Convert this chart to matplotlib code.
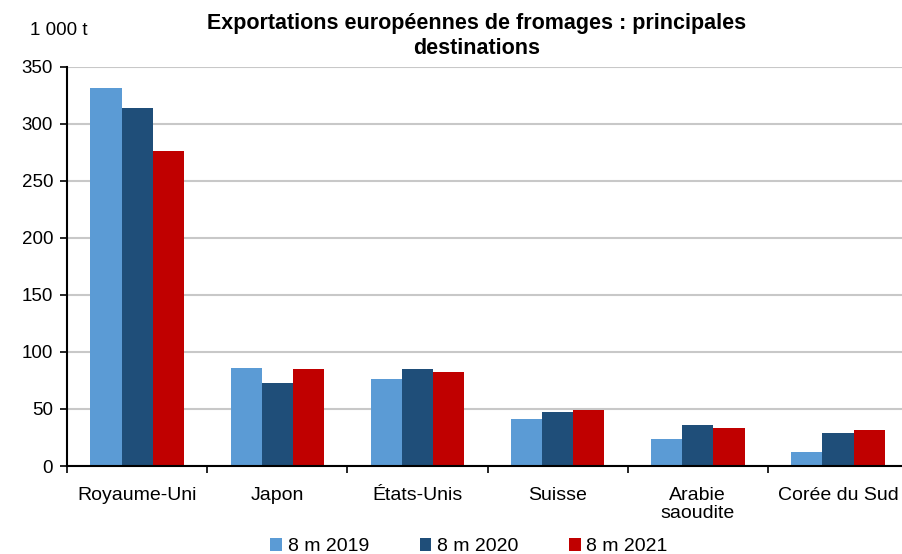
import matplotlib.pyplot as plt
import numpy as np

plt.rcParams['font.family'] = ['Liberation Sans', 'DejaVu Sans']

# Données
pays = ['Royaume-Uni', 'Japon', 'États-Unis', 'Suisse', 'Arabie\nsaoudite', 'Corée du Sud']
v2019 = [331, 86, 76, 41, 24, 12]
v2020 = [314, 73, 85, 47, 36, 29]
v2021 = [276, 85, 82, 49, 33, 32]
series = ['8 m 2019', '8 m 2020', '8 m 2021']
couleurs = ['#5B9BD5', '#1F4E79', '#C00000']


fig = plt.figure(figsize=(9.02, 5.54), dpi=100)
ax = fig.add_axes([0.0743, 0.1588, 0.9324, 0.7208])

x = np.arange(len(pays))
w = 1 / 4.5
for k, (vals, nom, c) in enumerate(zip([v2019, v2020, v2021], series, couleurs)):
    ax.bar(x + (k - 1) * w, vals, width=w, color=c, label=nom, zorder=3)

ax.set_xlim(-0.5, len(pays) - 0.5)
ax.set_ylim(0, 350)
ax.set_yticks(range(0, 351, 50))
ax.yaxis.grid(True, color='#c8c8c8', linewidth=1.5, zorder=0)

ax.set_xticks(x)
ax.set_xticklabels(pays, fontsize=14, linespacing=1.1)
ax.set_xticks(np.arange(len(pays) + 1) - 0.5, minor=True)
ax.tick_params(axis='x', which='major', length=0, pad=15)
ax.tick_params(axis='x', which='minor', length=5, width=1.2, direction='out')
ax.tick_params(axis='y', labelsize=13.5, length=5, width=1.2, pad=5)

for s in ['top', 'right']:
    ax.spines[s].set_visible(False)
for s in ['left', 'bottom']:
    ax.spines[s].set_linewidth(1.5)
    ax.spines[s].set_zorder(4)

fig.text(0.528, 0.935, 'Exportations européennes de fromages : principales\ndestinations',
         ha='center', va='center', fontsize=15.5, fontweight='bold', linespacing=1.2)
fig.text(0.033, 0.945, '1 000 t', ha='left', va='center', fontsize=13.5)

fig.legend(loc='center', bbox_to_anchor=(0.52, 0.013), ncol=3, frameon=False,
           fontsize=14, handlelength=0.6, handleheight=0.6, handletextpad=0.3,
           columnspacing=2.6)

fig.savefig('out.png', dpi=100)
